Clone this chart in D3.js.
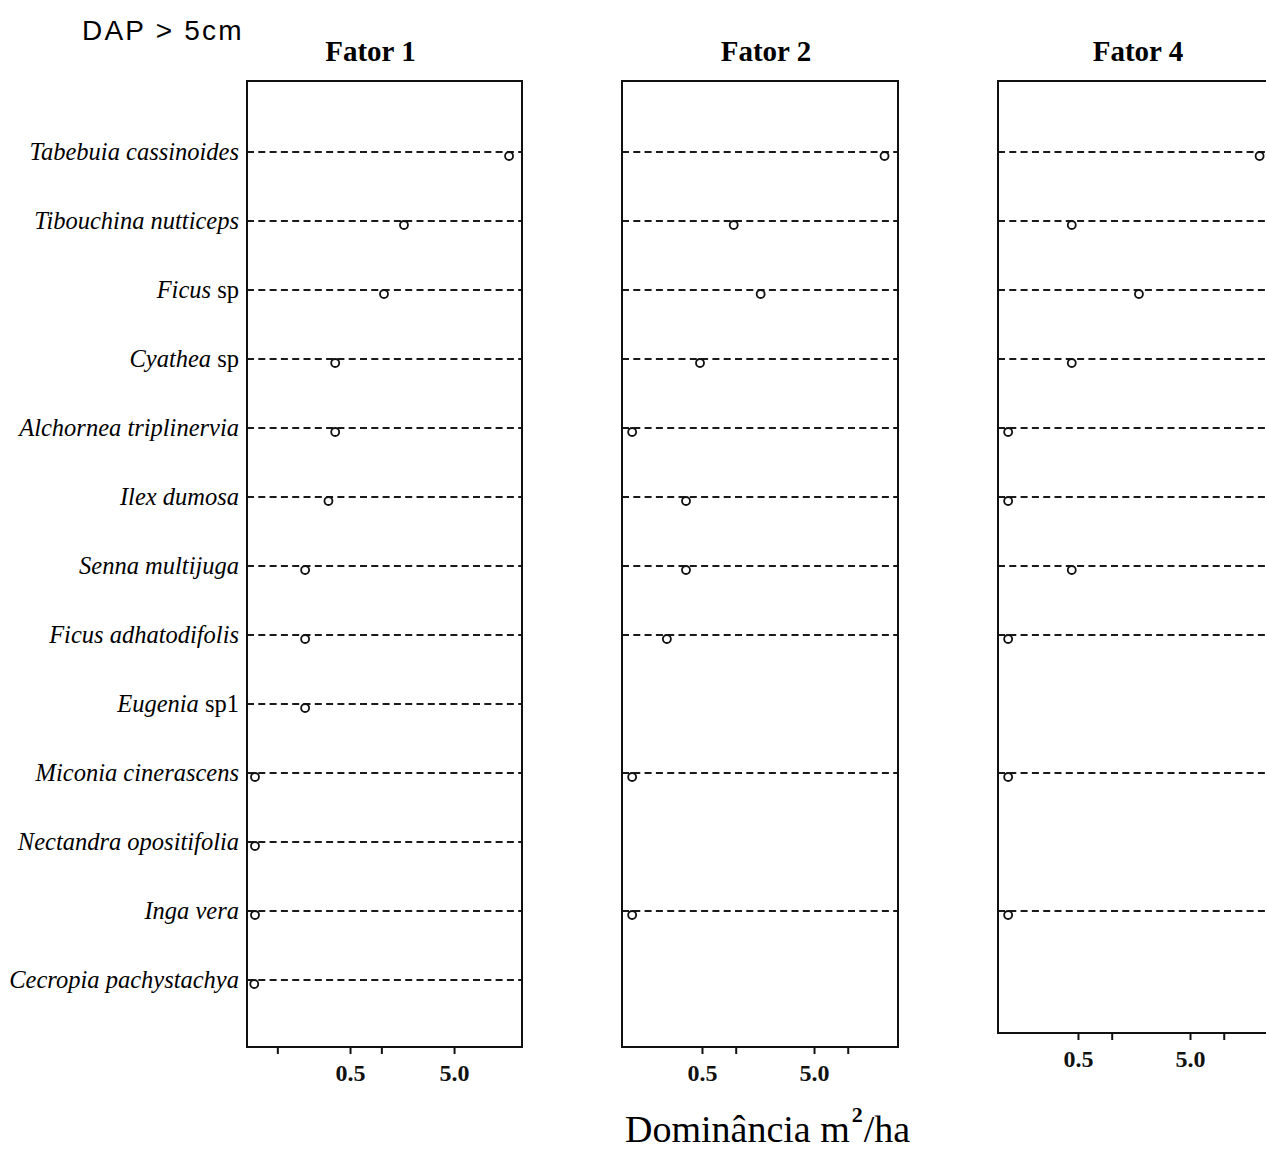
<!DOCTYPE html>
<html>
<head>
<meta charset="utf-8">
<script src="https://cdn.jsdelivr.net/npm/d3@7"></script>
<style>
  html, body { margin: 0; padding: 0; background: #fff; }
  svg { display: block; }
</style>
</head>
<body>
<svg id="chart" width="1266" height="1153"></svg>
<script>
// Species (genus/epithet in italics, "sp" suffixes in roman)
const speciesItalic = [
  "Tabebuia cassinoides", "Tibouchina nutticeps", "Ficus", "Cyathea",
  "Alchornea triplinervia", "Ilex dumosa", "Senna multijuga", "Ficus adhatodifolis",
  "Eugenia", "Miconia cinerascens", "Nectandra opositifolia", "Inga vera",
  "Cecropia pachystachya"
];
const speciesSuffix = ["", "", "sp", "sp", "", "", "", "", "sp1", "", "", "", ""];

// Dominância (m²/ha) per factor; null = species absent in that factor
const fator1 = [16.9, 1.65, 1.06, 0.36, 0.36, 0.31, 0.185, 0.185, 0.185, 0.061, 0.061, 0.061, 0.06];
const fator2 = [21.3, 0.96, 1.67, 0.48, 0.119, 0.36, 0.36, 0.243, null, 0.119, null, 0.119, null];
const fator4 = [20.9, 0.44, 1.75, 0.44, 0.119, 0.119, 0.44, 0.119, null, 0.119, null, 0.119, null];

const panelTitles = ["Fator 1", "Fator 2", "Fator 4"];
const ticksFator1 = [0.1, 0.5, 1, 5];
const ticksOther = [0.5, 1, 5, 10];
const tickLabels = { 0.5: "0.5", 5: "5.0" };

const chartTitle = "DAP > 5cm";
const axisTitle = "Dominância m";
const axisTitleSup = "2";
const axisTitleTail = "/ha";

// ---- layout ----
const svg = d3.select("#chart");
const frameTop = 81;
const panels = [
  { title: panelTitles[0], values: fator1, ticks: ticksFator1, left: 247, width: 275, bottom: 1047, domain: [0.0511, 22.5], titleShift: -14 },
  { title: panelTitles[1], values: fator2, ticks: ticksOther,  left: 622, width: 276, bottom: 1047, domain: [0.0966, 28.1], titleShift: 6 },
  { title: panelTitles[2], values: fator4, ticks: ticksOther,  left: 998, width: 276, bottom: 1033, domain: [0.0966, 28.1], titleShift: 2 }
];

const rowIds = speciesItalic.map((d, i) => i);
const y = d3.scalePoint().domain(rowIds).range([152, 980]);

// chart heading
svg.append("text")
  .attr("x", 82).attr("y", 40)
  .attr("font-family", "Liberation Sans, Arial, sans-serif")
  .attr("font-size", 28)
  .attr("letter-spacing", 2.2)
  .text(chartTitle);

// species labels (left of first panel)
const labels = svg.append("g")
  .attr("font-family", "Liberation Serif, Times New Roman, serif")
  .attr("font-size", 24.5)
  .attr("text-anchor", "end");
rowIds.forEach(i => {
  const t = labels.append("text")
    .attr("x", 239)
    .attr("y", y(i))
    .attr("dy", "0.33em");
  t.append("tspan").attr("font-style", "italic").text(speciesItalic[i]);
  if (speciesSuffix[i]) t.append("tspan").text("\u00a0" + speciesSuffix[i]);
});

panels.forEach(p => {
  const x = d3.scaleLog().domain(p.domain).range([p.left, p.left + p.width]);
  const g = svg.append("g");

  // panel title
  g.append("text")
    .attr("x", p.left + p.width / 2 + p.titleShift)
    .attr("y", 61)
    .attr("text-anchor", "middle")
    .attr("font-family", "Liberation Serif, Times New Roman, serif")
    .attr("font-weight", "bold")
    .attr("font-size", 29)
    .text(p.title);

  // dashed guide lines for species present
  const present = rowIds.filter(i => p.values[i] != null);
  g.selectAll("line.guide").data(present).enter().append("line")
    .attr("class", "guide")
    .attr("x1", p.left).attr("x2", p.left + p.width)
    .attr("y1", d => y(d)).attr("y2", d => y(d))
    .attr("stroke", "#1a1a1a")
    .attr("stroke-width", 2.2)
    .attr("stroke-dasharray", "7,4.3");

  // frame
  g.append("rect")
    .attr("x", p.left).attr("y", frameTop)
    .attr("width", p.width).attr("height", p.bottom - frameTop)
    .attr("fill", "none")
    .attr("stroke", "#111")
    .attr("stroke-width", 2);

  // points
  g.selectAll("circle").data(present).enter().append("circle")
    .attr("cx", d => x(p.values[d]))
    .attr("cy", d => y(d) + 4)
    .attr("r", 4)
    .attr("fill", "#fff")
    .attr("stroke", "#111")
    .attr("stroke-width", 1.8);

  // bottom axis
  const axis = d3.axisBottom(x)
    .tickValues(p.ticks)
    .tickSize(7)
    .tickPadding(10)
    .tickFormat(d => tickLabels[d] || "");
  const ag = g.append("g")
    .attr("transform", `translate(0,${p.bottom})`)
    .call(axis);
  ag.select(".domain").remove();
  ag.selectAll(".tick line").attr("stroke", "#111").attr("stroke-width", 2);
  ag.selectAll(".tick text")
    .attr("fill", "#111")
    .attr("font-family", "Liberation Serif, Times New Roman, serif")
    .attr("font-weight", "bold")
    .attr("font-size", 24);
});

// x axis title
const at = svg.append("text")
  .attr("x", 625).attr("y", 1142)
  .attr("font-family", "Liberation Serif, Times New Roman, serif")
  .attr("font-size", 38);
at.append("tspan").text(axisTitle);
at.append("tspan").attr("font-size", 22).attr("font-weight", "bold").attr("dy", -20).attr("dx", 2).text(axisTitleSup);
at.append("tspan").attr("dy", 20).attr("dx", 1).text(axisTitleTail);
</script>
</body>
</html>
